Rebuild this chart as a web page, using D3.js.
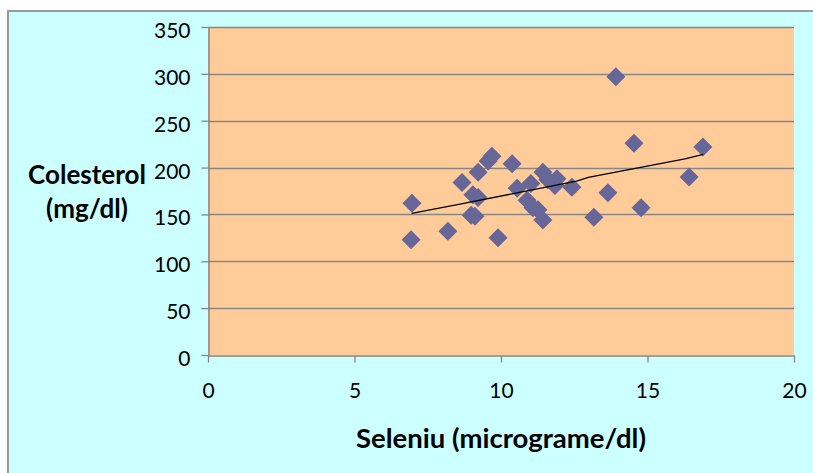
<!DOCTYPE html>
<html>
<head>
<meta charset="utf-8">
<script src="https://cdn.jsdelivr.net/npm/d3@7"></script>
<style>
  html, body { margin: 0; padding: 0; background: #ffffff; }
  svg { display: block; }
</style>
</head>
<body>
<svg id="chart" width="813" height="473"></svg>
<script>
// Selenium vs. cholesterol measurements
const seleniu = [6.96, 6.93, 8.19, 8.67, 9.22, 9.56, 9.69, 10.38, 9.04, 9.22,
                 8.98, 9.11, 9.90, 10.55, 11.02, 11.43, 11.60, 11.91, 11.84, 12.42,
                 10.89, 11.09, 11.26, 11.43, 13.17, 13.65, 13.92, 14.54, 14.78, 16.42, 16.89];
const colesterol = [162, 123, 132, 184, 195, 207, 212, 204, 171, 168,
                    149, 148, 125, 178, 183, 195, 187, 188, 181, 179,
                    165, 157, 155, 144, 147, 173, 297, 226, 157, 190, 222];

// fitted trend line
const trendX = [6.95, 8.60, 12.58, 12.98, 16.28, 16.90];
const trendY = [151.2, 161.1, 185.5, 189.6, 209.2, 214.2];

const xTicks = [0, 5, 10, 15, 20];
const yTicks = [0, 50, 100, 150, 200, 250, 300, 350];

const yTitle = ["Colesterol", "(mg/dl)"];
const xTitle = "Seleniu (micrograme/dl)";

const svg = d3.select("#chart");
const W = 813, H = 473;
const plot = { left: 208, right: 794, top: 27, bottom: 355 };
const gridColor = "#868686";
const font = "Lato, 'Open Sans', sans-serif";

// chart area background with its frame
svg.append("rect").attr("x", 0).attr("y", 0).attr("width", W).attr("height", H).attr("fill", "#ffffff");
svg.append("rect").attr("x", 9).attr("y", 11).attr("width", W - 9).attr("height", H - 11).attr("fill", "#ccffff");
svg.append("line").attr("x1", 8).attr("x2", W).attr("y1", 11).attr("y2", 11)
  .attr("stroke", "#9a9a9a").attr("stroke-width", 2);
svg.append("line").attr("x1", 8).attr("x2", 8).attr("y1", 10).attr("y2", H)
  .attr("stroke", "#9a9a9a").attr("stroke-width", 2);

const x = d3.scaleLinear().domain([0, 20]).range([plot.left, plot.right]);
const y = d3.scaleLinear().domain([0, 350]).range([plot.bottom, plot.top]);

// plot area
svg.append("rect")
  .attr("x", plot.left).attr("y", plot.top)
  .attr("width", plot.right - plot.left).attr("height", plot.bottom - plot.top)
  .attr("fill", "#ffcc99");

// horizontal gridlines
svg.append("g").selectAll("line").data(yTicks.filter(d => d > 0)).join("line")
  .attr("x1", plot.left).attr("x2", plot.right)
  .attr("y1", d => Math.round(y(d)) + 0.5).attr("y2", d => Math.round(y(d)) + 0.5)
  .attr("stroke", gridColor).attr("stroke-width", 1.3);

// y axis
const yAxis = d3.axisLeft(y).tickValues(yTicks).tickSize(7).tickPadding(11).tickSizeOuter(0);
const gy = svg.append("g").attr("transform", `translate(${plot.left + 0.5},0)`).call(yAxis);
gy.select(".domain").attr("stroke", gridColor).attr("stroke-width", 1.5);
gy.selectAll(".tick line").attr("stroke", gridColor).attr("stroke-width", 1.3);
gy.selectAll(".tick text").attr("font-family", font).attr("font-size", 21).attr("fill", "#000")
  .attr("dy", "0.5em");

// x axis
const xAxis = d3.axisBottom(x).tickValues(xTicks).tickSize(7).tickPadding(21).tickSizeOuter(0);
const gx = svg.append("g").attr("transform", `translate(0,${plot.bottom + 0.5})`).call(xAxis);
gx.select(".domain").attr("stroke", gridColor).attr("stroke-width", 1.5);
gx.selectAll(".tick line").attr("stroke", gridColor).attr("stroke-width", 1.3);
gx.selectAll(".tick text").attr("font-family", font).attr("font-size", 21).attr("fill", "#000");

// data points as diamonds
const r = 9.5;
const diamond = `M0,${-r}L${r},0L0,${r}L${-r},0Z`;
svg.append("g").selectAll("path").data(d3.zip(seleniu, colesterol)).join("path")
  .attr("transform", d => `translate(${x(d[0])},${y(d[1])})`)
  .attr("d", diamond)
  .attr("fill", "#666699");

// trend line
const line = d3.line().x(d => x(d[0])).y(d => y(d[1]));
svg.append("path").datum(d3.zip(trendX, trendY))
  .attr("d", line).attr("fill", "none").attr("stroke", "#000").attr("stroke-width", 1.3);

// axis titles
const yt = svg.append("text").attr("font-family", font).attr("font-weight", "bold")
  .attr("font-size", 26).attr("text-anchor", "middle").attr("fill", "#000");
yt.selectAll("tspan").data(yTitle).join("tspan")
  .attr("x", 87).attr("y", (d, i) => 184 + i * 34).text(d => d);

svg.append("text").attr("font-family", font).attr("font-weight", "bold")
  .attr("font-size", 27.5).attr("text-anchor", "middle").attr("fill", "#000")
  .attr("x", (plot.left + plot.right) / 2).attr("y", 448).text(xTitle);
</script>
</body>
</html>
